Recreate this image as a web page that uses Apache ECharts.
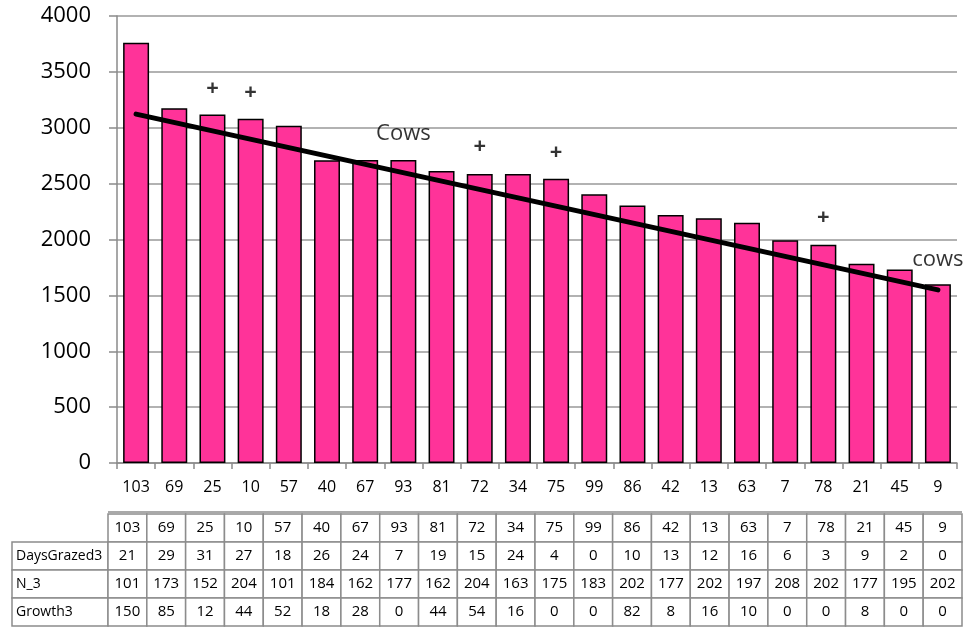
<!DOCTYPE html>
<html>
<head>
<meta charset="utf-8">
<script src="https://cdn.jsdelivr.net/npm/echarts@6/dist/echarts.min.js"></script>
<style>
html,body{margin:0;padding:0;background:#fff;}
#chart{width:967px;height:630px;}
</style>
</head>
<body>
<div id="chart"></div>
<script>
// ---- data ----
var categories = ['103','69','25','10','57','40','67','93','81','72','34','75','99','86','42','13','63','7','78','21','45','9'];
var barValues = [3760,3175,3118,3080,3017,2710,2712,2712,2614,2587,2587,2543,2405,2305,2220,2190,2149,1994,1952,1784,1731,1600];
var trendCats = ['103','9'];
var trendValues = [3122,1549];
var plusCats = ['25','10','72','75','78'];
var plusValues = [3348,3310,2826,2778,2193];
var noteCats = ['93','9'];
var noteValues = [2948,1822];
var noteTexts = ['Cows','cows'];
var tableHeader = ['103','69','25','10','57','40','67','93','81','72','34','75','99','86','42','13','63','7','78','21','45','9'];
var rowNames = ['DaysGrazed3','N_3','Growth3'];
var daysGrazed3 = [21,29,31,27,18,26,24,7,19,15,24,4,0,10,13,12,16,6,3,9,2,0];
var n3 = [101,173,152,204,101,184,162,177,162,204,163,175,183,202,177,202,197,208,202,177,195,202];
var growth3 = [150,85,12,44,52,18,28,0,44,54,16,0,0,82,8,16,10,0,0,8,0,0];

var FONT = '"Open Sans"';
var chart = echarts.init(document.getElementById('chart'), null, {renderer:'canvas'});

// ---- table as graphic elements ----
var rows = [daysGrazed3, n3, growth3];
var tx0 = 12, labelW = 96, tcol0 = 108, tcw = (962 - 108) / 22, ty0 = 514, trh = 28;
var border = '#8c8c8c';
var g = [];
function cell(x, y, w, h) {
  g.push({type:'rect', shape:{x:x, y:y, width:w, height:h}, style:{fill:'#fff', stroke:border, lineWidth:1.5}, z:10});
}
function txt(x, y, s, align, size) {
  g.push({type:'text', x:x, y:y, style:{text:String(s), fill:'#000', font:size + 'px ' + FONT, align:align, verticalAlign:'middle'}, z:11});
}
for (var c = 0; c < tableHeader.length; c++) {
  var cx = tcol0 + c * tcw;
  cell(cx, ty0, tcw, trh);
  txt(cx + tcw / 2, ty0 + trh / 2, tableHeader[c], 'center', 15);
}
for (var r = 0; r < rows.length; r++) {
  var ry = ty0 + trh * (r + 1);
  cell(tx0, ry, labelW, trh);
  txt(tx0 + 4, ry + trh / 2, rowNames[r], 'left', 14);
  for (var c2 = 0; c2 < rows[r].length; c2++) {
    var cx2 = tcol0 + c2 * tcw;
    cell(cx2, ry, tcw, trh);
    txt(cx2 + tcw / 2, ry + trh / 2, rows[r][c2], 'center', 15);
  }
}
g.push({type:'line', shape:{x1:tcol0, y1:ty0 - 2, x2:tcol0 + 22 * tcw, y2:ty0 - 2}, style:{stroke:border, lineWidth:1.5}, z:10});

var plusData = plusCats.map(function(c, i){ return [c, plusValues[i]]; });
var noteData = noteCats.map(function(c, i){ return {value:[c, noteValues[i]], label:{formatter:noteTexts[i]}}; });
var trendData = trendCats.map(function(c, i){ return [c, trendValues[i]]; });

var option = {
  animation: false,
  backgroundColor: '#fff',
  textStyle: {fontFamily: 'Open Sans'},
  grid: {left:117, top:16, right:10, bottom:167, containLabel:false},
  xAxis: {
    type:'category',
    data: categories,
    axisLine: {show:true, lineStyle:{color:'#8a8a8a', width:1.5}},
    axisTick: {show:true, alignWithLabel:false, length:6, lineStyle:{color:'#8a8a8a', width:1.5}},
    axisLabel: {color:'#000', fontSize:16, fontFamily:'Open Sans', margin:16, interval:0},
    splitLine: {show:false}
  },
  yAxis: {
    type:'value', min:0, max:4000, interval:500,
    axisLine: {show:true, lineStyle:{color:'#8a8a8a', width:1.5}},
    axisTick: {show:true, length:8, lineStyle:{color:'#8a8a8a', width:1.5}},
    axisLabel: {color:'#000', fontSize:22, fontFamily:'Open Sans', margin:26, formatter:function(v){ return String(v); }},
    splitLine: {show:true, lineStyle:{color:'#999', width:1.5}}
  },
  series: [
    {
      type:'bar', data: barValues, barCategoryGap:'32%',
      itemStyle: {color:'#FF3399', borderColor:'#000', borderWidth:1.5},
      z:2
    },
    {
      type:'line', data: trendData, symbol:'none',
      lineStyle: {color:'#000', width:5, cap:'round'},
      z:5
    },
    {
      type:'scatter', data: plusData, symbolSize:0,
      label: {show:true, position:'inside', formatter:'+', color:'#000', fontSize:22, fontWeight:'bold', fontFamily:'Open Sans'},
      z:6
    },
    {
      type:'scatter', data: noteData, symbolSize:0,
      label: {show:true, position:'inside', color:'#000', fontSize:22, fontFamily:'Open Sans'},
      z:6
    }
  ],
  graphic: g
};
chart.setOption(option);
</script>
</body>
</html>
